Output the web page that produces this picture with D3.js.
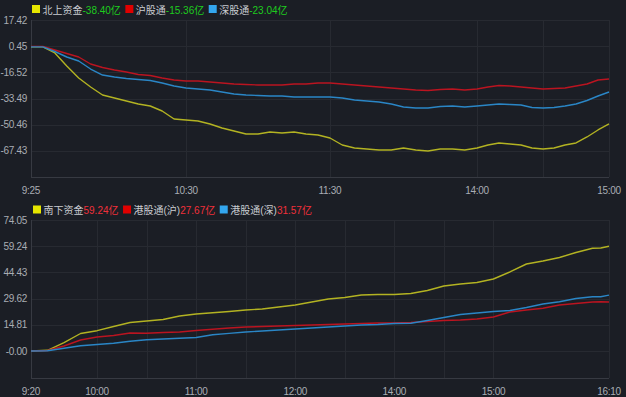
<!DOCTYPE html>
<html><head><meta charset="utf-8">
<script src="https://cdn.jsdelivr.net/npm/d3@7"></script>
<style>
html,body{margin:0;padding:0;background:#1b1e25;}
svg{display:block;}
text{font-family:"Liberation Sans",Arial,"Noto Sans CJK SC",sans-serif;}
</style></head><body>
<svg id="c" width="626" height="397"></svg>
<script>
// ---------- DATA ----------
const topTimes = ["9:25","9:30","9:35","9:40","9:45","9:50","9:55","10:00","10:05","10:10","10:15","10:20","10:25","10:30","10:35","10:40","10:45","10:50","10:55","11:00","11:05","11:10","11:15","11:20","11:25","11:30",
 "13:05","13:10","13:15","13:20","13:25","13:30","13:35","13:40","13:45","13:50","13:55","14:00","14:05","14:10","14:15","14:20","14:25","14:30","14:35","14:40","14:45","14:50","14:55","15:00"];
const northTotal = [0,0,-3.98,-12.41,-20.19,-26.03,-31.22,-33.16,-35.11,-37.05,-38.35,-41.59,-46.78,-47.46,-48.08,-50.02,-52.62,-54.56,-56.51,-56.51,-55.21,-55.86,-55.21,-56.51,-57.16,-59.10,
 -63.64,-65.59,-66.24,-66.89,-66.89,-65.59,-66.89,-67.53,-66.24,-66.24,-66.89,-65.59,-63.64,-62.34,-62.99,-63.64,-65.59,-66.24,-65.59,-63.64,-62.34,-58.45,-53.91,-50.02];
const shConnect = [0.3,0.3,-2.04,-4.30,-6.57,-11.11,-13.38,-15.01,-16.30,-17.92,-18.57,-20.19,-21.49,-22.14,-22.14,-22.79,-23.44,-24.08,-24.41,-24.73,-24.73,-24.73,-24.08,-24.08,-23.44,-23.44,
 -24.08,-24.73,-25.38,-26.03,-26.68,-27.33,-27.98,-28.30,-27.65,-27.33,-27.98,-27.33,-26.03,-25.06,-25.38,-26.03,-26.68,-27.33,-27.00,-26.68,-25.38,-24.08,-21.49,-20.84];
const szConnect = [0,0,-3.01,-6.57,-9.17,-14.36,-18.25,-19.54,-20.52,-21.17,-21.81,-23.44,-25.38,-26.68,-27.33,-27.98,-29.27,-30.57,-31.22,-31.54,-31.87,-31.87,-32.51,-32.51,-32.51,-32.51,
 -33.16,-34.46,-35.11,-35.76,-37.05,-39.00,-39.65,-39.65,-38.68,-38.35,-39.00,-38.35,-37.70,-37.05,-37.38,-37.70,-39.32,-39.65,-39.32,-38.35,-37.05,-34.78,-31.87,-29.27];
const topYTicks = [17.42,0.45,-16.52,-33.49,-50.46,-67.43];
const topYLabels = ["17.42","0.45","-16.52","-33.49","-50.46","-67.43"];
const topXTicks = ["9:25","10:30","11:30","14:00","15:00"];
const topXGrid = ["10:30","11:30","14:00","14:30"];
const topLegendNames = ["北上资金","沪股通","深股通"];
const topLegendValues = ["-38.40亿","-15.36亿","-23.04亿"];

const botTimes = ["9:20","9:30","9:40","9:50","10:00","10:10","10:20","10:30","10:40","10:50","11:00","11:10","11:20","11:30","11:40","11:50","12:00",
 "13:10","13:20","13:30","13:40","13:50","14:00","14:10","14:20","14:30","14:40","14:50","15:00","15:10","15:20","15:30","15:40","15:50","16:00","16:05","16:10"];
const southTotal = [0,0.4,4.8,9.89,11.48,13.85,16.11,16.96,17.81,19.79,20.92,21.59,22.33,23.18,23.74,24.87,26.00,
 27.70,29.40,30.24,31.66,31.94,31.94,32.50,34.20,36.74,37.88,38.72,40.70,44.66,49.18,50.88,52.86,55.68,58.11,58.23,59.24];
const hkSh = [0,0.3,2.83,6.22,7.91,8.76,10.18,10.06,10.46,10.74,11.59,12.27,13.00,13.57,13.85,14.13,14.42,
 14.70,14.98,15.26,15.55,15.83,15.83,16.11,16.68,17.24,17.52,18.09,19.22,22.05,23.18,24.19,26.00,26.85,27.70,27.87,27.67];
const hkSz = [0,0.15,1.53,2.94,3.67,4.35,5.54,6.39,6.78,7.24,7.63,9.16,9.95,10.74,11.31,11.87,12.44,
 13.00,13.57,14.13,14.70,14.98,15.55,15.66,17.24,18.94,20.63,21.48,22.33,22.89,24.59,26.57,27.81,29.68,30.70,30.70,31.57];
const botYTicks = [74.05,59.24,44.43,29.62,14.81,0];
const botYLabels = ["74.05","59.24","44.43","29.62","14.81","-0.00"];
const botXTicks = ["9:20","10:00","11:00","12:00","14:00","15:00","16:10"];
const botXGrid = ["10:00","10:30","11:00","11:30","12:00","13:30","14:00","14:30","15:00"];
const botLegendNames = ["南下资金","港股通(沪)","港股通(深)"];
const botLegendValues = ["59.24亿","27.67亿","31.57亿"];

// ---------- STYLE ----------
const lineColors = ["#b3b322","#bb1420","#2a86c6"];
const legendColors = ["#e6e600","#e00000","#33a6ee"];
const gridColor = "#272a31", axisColor = "#373a42", labelColor = "#a9adb4";

const svg = d3.select("#c");
const toMin = s => { const [h,m] = s.split(":").map(Number); return h*60+m; };
const topMin = s => { const t = toMin(s); return t >= 780 ? t - 780 + 125 : t - 565; };
const botMin = s => { const t = toMin(s); return t >= 780 ? t - 780 + 160 : t - 560; };

function panel(o){
  const g = svg.append("g");
  const x = o.x, y = o.y;
  const [x0,x1] = [x.range()[0], x.range()[x.range().length-1]];
  const [yb,yt] = y.range();
  g.selectAll(".hg").data(o.yTicks).join("line")
    .attr("x1",x0).attr("x2",x1).attr("y1",d=>Math.round(y(d))+0.5).attr("y2",d=>Math.round(y(d))+0.5)
    .attr("stroke",gridColor);
  g.selectAll(".vg").data(o.xGrid).join("line")
    .attr("x1",d=>Math.round(x(o.tmin(d)))+0.5).attr("x2",d=>Math.round(x(o.tmin(d)))+0.5)
    .attr("y1",yt).attr("y2",yb).attr("stroke",gridColor);
  g.append("line").attr("x1",Math.round(x1)+0.5).attr("x2",Math.round(x1)+0.5).attr("y1",yt).attr("y2",yb).attr("stroke",gridColor);
  g.append("line").attr("x1",Math.round(x0)+0.5).attr("x2",Math.round(x0)+0.5).attr("y1",yt).attr("y2",yb).attr("stroke",axisColor);
  g.append("line").attr("x1",x0).attr("x2",x1).attr("y1",Math.round(yb)+0.5).attr("y2",Math.round(yb)+0.5).attr("stroke",axisColor);
  g.selectAll(".yl").data(o.yTicks).join("text")
    .attr("x",x0-4).attr("y",d=>y(d)).attr("dy","0.35em").attr("text-anchor","end")
    .attr("font-size",10).attr("letter-spacing","-0.3").attr("fill",labelColor).text((d,i)=>o.yLabels[i]);
  g.selectAll(".xl").data(o.xTicks).join("text")
    .attr("x",d=>x(o.tmin(d))).attr("y",yb+13).attr("dy","0.35em").attr("text-anchor","middle")
    .attr("font-size",10).attr("fill",labelColor).attr("letter-spacing","-0.3").text(d=>d);
  const line = d3.line().x(d=>x(d[0])).y(d=>y(d[1]));
  o.series.forEach((s,si)=>{
    const pts = o.times.map((t,i)=>[o.tmin(t), s[i]]);
    g.append("path").datum(pts).attr("d",line).attr("fill","none")
      .attr("stroke",lineColors[si]).attr("stroke-width",1.4).attr("stroke-linejoin","round");
  });
  // legend: chained items
  const lg = g.append("g");
  let lx = o.legendX0;
  o.legendNames.forEach((name,i)=>{
    lg.append("rect").attr("x",lx).attr("y",o.legendY-8.5).attr("width",8).attr("height",8).attr("fill",legendColors[i]);
    const t = lg.append("text").attr("x",lx+10.5).attr("y",o.legendY).attr("font-size",10);
    t.append("tspan").attr("fill","#c9ccd1").text(name);
    t.append("tspan").attr("fill",o.valueColor).text(o.legendValues[i]);
    lx = lx + 10.5 + t.node().getComputedTextLength() + 4.5;
  });
}

const xTop = d3.scaleLinear().domain([0,65,125,185,245]).range([31,186,330,477,609]);
const yTop = d3.scaleLinear().domain([-84.4,17.42]).range([177,20]);
panel({x:xTop,y:yTop,tmin:topMin,times:topTimes,series:[northTotal,shConnect,szConnect],
  yTicks:topYTicks,yLabels:topYLabels,xTicks:topXTicks,xGrid:topXGrid,
  legendNames:topLegendNames,legendValues:topLegendValues,legendX0:32,legendY:13.5,valueColor:"#1ecb1e"});

const xBot = d3.scaleLinear().domain([0,350]).range([31,609]);
const yBot = d3.scaleLinear().domain([-15.26,74.05]).range([378,220]);
panel({x:xBot,y:yBot,tmin:botMin,times:botTimes,series:[southTotal,hkSh,hkSz],
  yTicks:botYTicks,yLabels:botYLabels,xTicks:botXTicks,xGrid:botXGrid,
  legendNames:botLegendNames,legendValues:botLegendValues,legendX0:33,legendY:214,valueColor:"#f0303a"});
</script>
</body></html>
